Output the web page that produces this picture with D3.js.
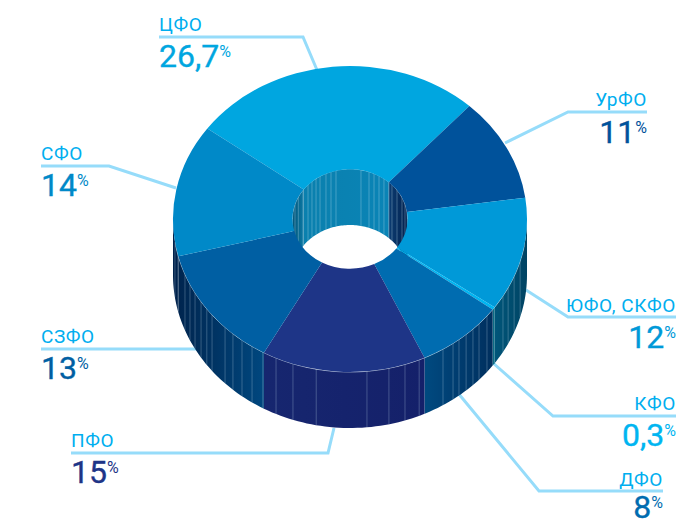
<!DOCTYPE html>
<html><head><meta charset="utf-8">
<script src="https://cdn.jsdelivr.net/npm/d3@7"></script>
<style>html,body{margin:0;padding:0;background:#fff;overflow:hidden}svg{display:block}text{font-family:Roboto,sans-serif}</style>
</head><body><svg id="c" width="677" height="519"></svg>
<script>
// Data
const regions = ["ЦФО","УрФО","ЮФО, СКФО","КФО","ДФО","ПФО","СЗФО","СФО"];
const shares  = [26.7,11,12,0.3,8,15,13,14];
const valueLabels = ["26,7","11","12","0,3","8","15","13","14"];
const faceColors = ["#00a6e0","#00529b","#0099d8","#00b5f1","#006cb0","#1e3587","#005fa3","#0089c8"];
const outerWallStops = [["#00305f","#00305f"],["#00305f","#00305f"],["#003f5e","#00567a"],["#0b6c85","#0b6c85"],["#002f5e","#004a80"],["#14206a","#16266f"],["#00477f","#00254f"],["#00224c","#00224c"]];
const innerWallStops = [["#0a80ae","#0a84b6"],["#0c3c72","#02224f"],["#02224f","#152755"],["#152755","#152755"],["#152755","#152755"],["#152755","#152755"],["#152755","#152755"],["#024a6a","#0a78a4"]];
const outerStripes = [106,112,116.7,120.2,129.3,133.2,136,139,142,144.4,148.3,157,161.9,167.3,174.5,191,198.8,204.7,209.5,213.6,217.6,221.4,224.9,231.2,234,237.3,241.1,244.7,248.8,256.4,261.5];
const innerStripes = [-73,-64,-54.8,-46.9,-41.4,-36.2,-31.4,-24.7,-19.3,-14.1,11,19.3,24.7,30.3,36.2,42.7,46.9,54.8,64.7,73];
const startDeg = -53.7;

// Layout
const cx=350, cy=219, rx=177, ry=153, irx=57.5, iry=50, depth=56;
const labelLayout = [
 {anchor:"start",x:159,ly:31, vy:67, line:[[159,37],[303,37],[317,70]]},
 {anchor:"end",  x:647,ly:106,vy:143,line:[[505,143],[568,112],[647,112]]},
 {anchor:"end",  x:676,ly:312,vy:348,line:[[526,290],[568,317],[676,317]]},
 {anchor:"end",  x:676,ly:410,vy:446,line:[[493,363],[553,416],[676,416]]},
 {anchor:"end",  x:663,ly:486,vy:518,line:[[458,393],[539,491],[663,491]]},
 {anchor:"start",x:71, ly:447,vy:483,line:[[334,428],[328,453],[71,453]]},
 {anchor:"start",x:41, ly:343,vy:379,line:[[200,349],[41,349]]},
 {anchor:"start",x:41, ly:160,vy:196,line:[[176,188],[109,166],[41,166]]}
];

const svg=d3.select("#c");
const defs=svg.append("defs");
const rad=d=>d*Math.PI/180, toDeg=r=>r*180/Math.PI;
const pie=d3.pie().sort(null).startAngle(rad(startDeg)).endAngle(rad(startDeg+360));
const arcs=pie(shares);
const lineGen=d3.line();

// Leaders
const leaders=svg.append("g");
labelLayout.forEach(l=>leaders.append("path").attr("d",lineGen(l.line)).attr("fill","none").attr("stroke","#96dcfa").attr("stroke-width",3));

const ept=(a,rX,rY,dy=0)=>[cx+rX*Math.sin(rad(a)),cy-rY*Math.cos(rad(a))+dy];
let gid=0;

function wall(g,rX,rY,from,to,stops,stripes,stripeColor){
  arcs.forEach((d,i)=>{
    [-360,0,360].forEach(off=>{
      const s0=toDeg(d.startAngle)+off, s1=toDeg(d.endAngle)+off;
      const a0=Math.max(s0,from), a1=Math.min(s1,to);
      if(a1<=a0) return;
      const color=d3.scaleLinear().domain([s0,s1]).range(stops[i]).interpolate(d3.interpolateRgb);
      const id="w"+(gid++);
      const lg=defs.append("linearGradient").attr("id",id).attr("gradientUnits","userSpaceOnUse")
        .attr("x1",ept(a0,rX,rY)[0]).attr("x2",ept(a1,rX,rY)[0]).attr("y1",0).attr("y2",0);
      d3.range(0,1.01,0.25).forEach(t=>lg.append("stop").attr("offset",t).attr("stop-color",color(a0+(a1-a0)*t)));
      const angles=d3.range(a0,a1,1.5).concat([a1]);
      const pts=angles.map(a=>ept(a,rX,rY)).concat(angles.slice().reverse().map(a=>ept(a,rX,rY,depth)));
      g.append("path").attr("d",lineGen(pts)+"Z").attr("fill",`url(#${id})`);
    });
  });
  stripes.forEach(a=>{
    g.append("path").attr("d",lineGen([ept(a,rX,rY),ept(a,rX,rY,depth)])).attr("stroke",stripeColor).attr("stroke-width",0.8).attr("fill","none");
  });
}

// Outer wall
const og=svg.append("g");
wall(og,rx,ry,90,270,outerWallStops,outerStripes,"rgba(200,225,240,0.34)");
// Inner wall
const ig=svg.append("g");
wall(ig,irx,iry,-90,90,innerWallStops,innerStripes,"rgba(205,235,245,0.38)");
ig.append("path").attr("d",lineGen(d3.range(-90,91,3).map(a=>ept(a,irx,iry)))).attr("fill","none").attr("stroke","rgba(220,240,250,0.5)").attr("stroke-width",0.7);

// Front rim highlight
svg.append("path").attr("d",lineGen(d3.range(100,261,2).map(a=>ept(a,rx,ry)))).attr("fill","none").attr("stroke","rgba(225,240,250,0.55)").attr("stroke-width",1);

// Top face
const arc=d3.arc().innerRadius(irx).outerRadius(rx);
const face=svg.append("g").attr("transform",`translate(${cx},${cy}) scale(1,${ry/rx})`);
face.selectAll("path").data(arcs).join("path").attr("d",arc).attr("fill",(d,i)=>faceColors[i]);

// Labels
const labels=svg.append("g");
regions.forEach((r,i)=>{
  const l=labelLayout[i];
  labels.append("text").attr("x",l.x).attr("y",l.ly).attr("text-anchor",l.anchor)
    .attr("font-size",19).attr("letter-spacing",0.6).attr("fill","#00aeef").text(r);
  const t=labels.append("text").attr("x",l.x).attr("y",l.vy).attr("text-anchor",l.anchor)
    .attr("font-size",32).attr("fill",faceColors[i]).attr("stroke",faceColors[i]).attr("stroke-width",0.35).text(valueLabels[i]);
  t.append("tspan").attr("font-size",16).attr("stroke","none").attr("dy",-10).text("%");
});
</script></body></html>
